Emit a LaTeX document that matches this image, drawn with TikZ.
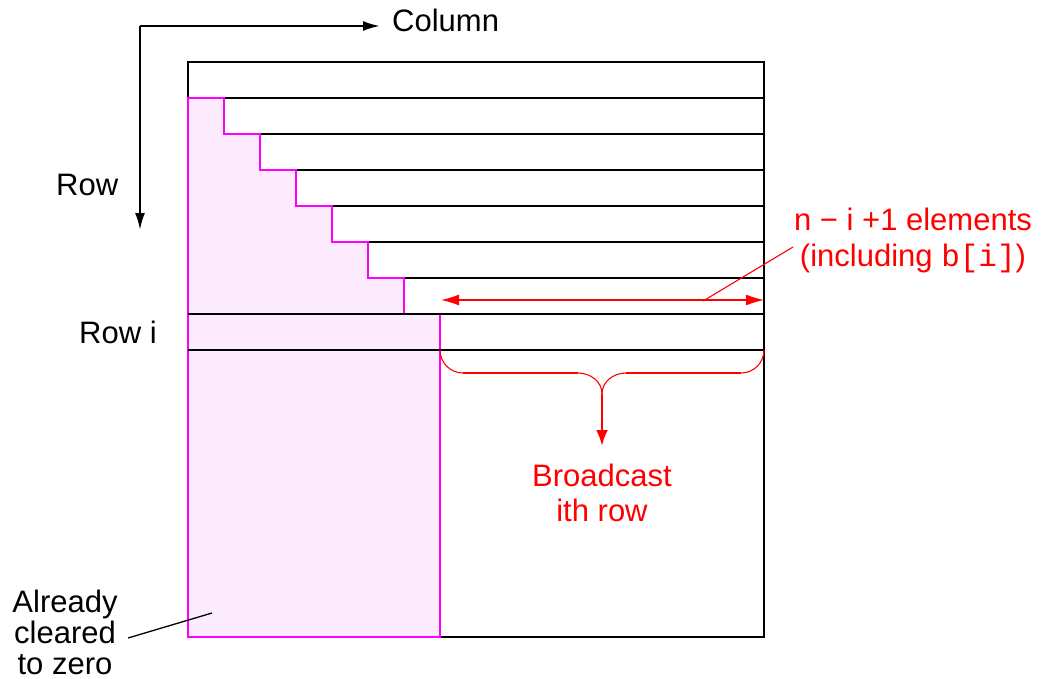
\documentclass[tikz,border=0pt]{standalone}
\usepackage{fontspec}
\setmainfont{Liberation Sans}
\setmonofont{Liberation Mono}
\usetikzlibrary{arrows.meta}
\definecolor{pinkfill}{RGB}{253,236,253}
\definecolor{mag}{RGB}{255,0,255}
\definecolor{rd}{RGB}{255,0,0}
\begin{document}
\begin{tikzpicture}[x=1pt,y=-1pt,
  lbl/.style={font=\fontsize{31}{35}\selectfont, inner sep=0pt, align=center},
  grid/.style={draw=black, line width=2.2pt},
  cleared/.style={draw=mag, fill=pinkfill, line width=2.2pt},
  redline/.style={draw=rd, line width=1.1pt},
  redthick/.style={draw=rd, line width=2.6pt},
  blackarrow/.style={draw=black, line width=2.2pt, -{Latex[length=17pt,width=10pt]}},
]
\useasboundingbox (0,0) rectangle (1046,678);

% outer matrix
\draw[grid] (188,62) rectangle (764,637);
% shrinking rows
\foreach \k in {0,...,6}{
  \draw[grid] ({188+36*\k},{62+36*\k}) rectangle (764,{98+36*\k});
}
% already cleared region
\draw[cleared] (188,98) -- (224,98) -- (224,134) -- (260,134) -- (260,170) -- (296,170)
  -- (296,206) -- (332,206) -- (332,242) -- (368,242) -- (368,278) -- (404,278)
  -- (404,314) -- (440,314) -- (440,637) -- (188,637) -- cycle;
% row i
\draw[grid] (188,314) -- (764,314);
\draw[grid] (188,350) -- (764,350);

% axes
\coordinate (corner) at (140,26);
\coordinate (colend) at (380,26);
\coordinate (rowend) at (140,230);
\node[lbl, anchor=base west] (column) at (392,31) {Column};
\node[lbl, anchor=base west] (row) at (56,195) {Row};
\node[lbl, anchor=base west] (rowi) at (79,343) {Row i};
\draw[blackarrow] (corner) -- (colend);
\draw[blackarrow] (corner) -- (rowend);

% elements arrow
\coordinate (elL) at (441,300);
\coordinate (elR) at (764,300);
\draw[draw=rd, line width=1.3pt, {Latex[length=18pt,width=11pt]}-{Latex[length=18pt,width=11pt]}] (elL) -- (elR);
\node[lbl, text=rd, font=\fontsize{31}{36}\selectfont] (elements) at (913,240)
  {n − i +1 elements\\(including \texttt{b[i]})};
\coordinate (elfoot) at (703,301);
\coordinate (elhead) at (793,247);
\draw[redline] (elfoot) -- (elhead);

% brace
\coordinate (bL) at (440,350);
\coordinate (bR) at (764,350);
\coordinate (bM) at (602,394);
\coordinate (bArrow) at (602,446);
\draw[redline] (bL) to[out=-90,in=180] (463,373);
\draw[redthick] (463,373) -- (578,373);
\draw[redline] (578,373) to[out=0,in=90] (bM);
\draw[redline] (bR) to[out=-90,in=0] (741,373);
\draw[redthick] (741,373) -- (626,373);
\draw[redline] (626,373) to[out=180,in=90] (bM);
\draw[draw=rd, line width=2.6pt, -{Latex[length=16pt,width=12pt]}] (bM) -- (bArrow);
\node[lbl, text=rd, font=\fontsize{31}{35}\selectfont] (broadcast) at (602,493) {Broadcast\\ith row};

% already cleared label
\node[lbl, font=\fontsize{31}{31}\selectfont] (already) at (65,632) {Already\\cleared\\to zero};
\coordinate (alA) at (128,638);
\coordinate (alB) at (212,613);
\draw[draw=black, line width=1.3pt] (alA) -- (alB);
\end{tikzpicture}
\end{document}
